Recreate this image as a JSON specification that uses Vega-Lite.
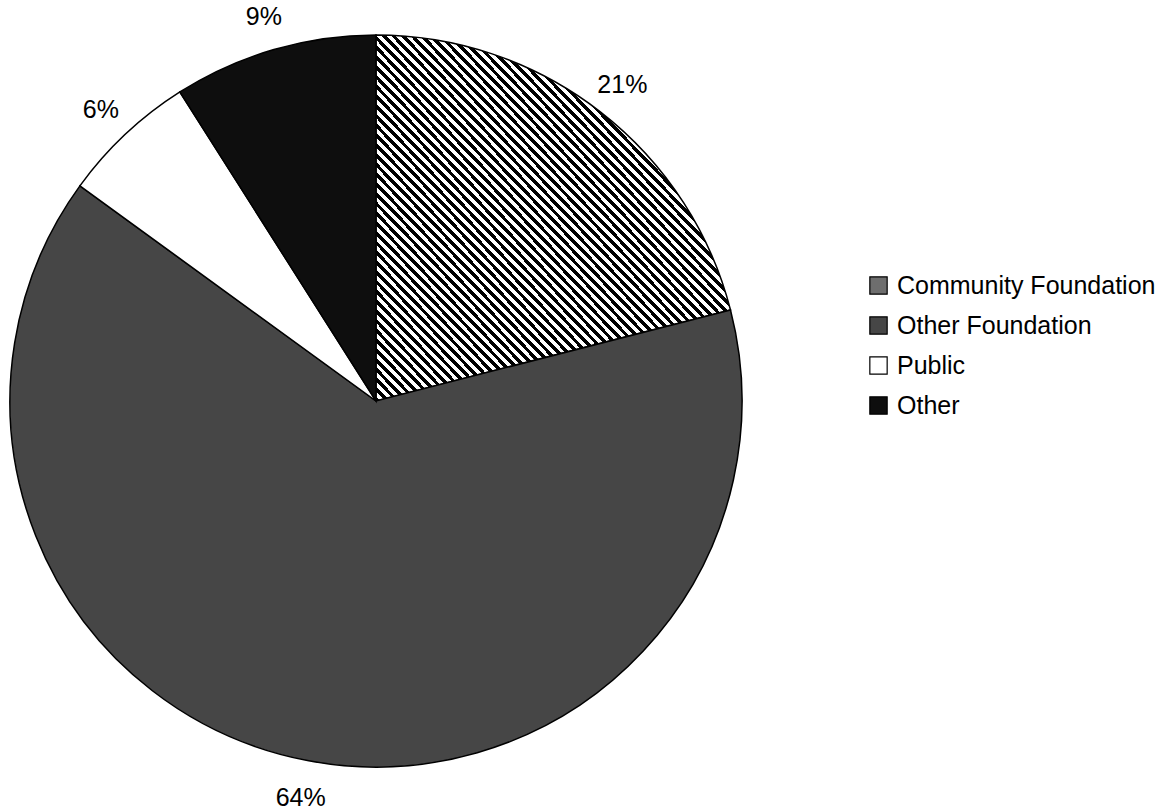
{
  "$schema": "https://vega.github.io/schema/vega-lite/v6.json",
  "width": 752,
  "height": 802,
  "padding": 0,
  "background": "white",
  "config": {"view": {"stroke": null}, "font": "Liberation Sans"},
  "data": {
    "values": [
      {"source": "Community Foundation", "share": 0.21},
      {"source": "Other Foundation", "share": 0.64},
      {"source": "Public", "share": 0.06},
      {"source": "Other", "share": 0.09}
    ]
  },
  "transform": [{"window": [{"op": "row_number", "as": "slice"}]}],
  "encoding": {
    "theta": {"field": "share", "type": "quantitative", "stack": true},
    "order": {"field": "slice", "type": "quantitative"}
  },
  "layer": [
    {
      "mark": {"type": "arc", "outerRadius": 366, "stroke": "black", "strokeWidth": 1.5},
      "encoding": {
        "fill": {
          "field": "source",
          "type": "nominal",
          "sort": ["Community Foundation", "Other Foundation", "Public", "Other"],
          "scale": {
            "domain": ["Community Foundation", "Other Foundation", "Public", "Other"],
            "range": ["#6e6e6e", "#464646", "#ffffff", "#0e0e0e"]
          },
          "condition": {
            "test": "datum.source === 'Community Foundation'",
            "value": {
              "gradient": "linear", "x1": 0, "y1": 1, "x2": 1, "y2": 0,
              "stops": [
{"offset":0,"color":"#000"},{"offset":0.0067,"color":"#000"},{"offset":0.0067,"color":"#fff"},{"offset":0.0133,"color":"#fff"},{"offset":0.0133,"color":"#000"},{"offset":0.02,"color":"#000"},
{"offset":0.02,"color":"#fff"},{"offset":0.0267,"color":"#fff"},{"offset":0.0267,"color":"#000"},{"offset":0.0333,"color":"#000"},{"offset":0.0333,"color":"#fff"},{"offset":0.04,"color":"#fff"},
{"offset":0.04,"color":"#000"},{"offset":0.0467,"color":"#000"},{"offset":0.0467,"color":"#fff"},{"offset":0.0533,"color":"#fff"},{"offset":0.0533,"color":"#000"},{"offset":0.06,"color":"#000"},
{"offset":0.06,"color":"#fff"},{"offset":0.0667,"color":"#fff"},{"offset":0.0667,"color":"#000"},{"offset":0.0733,"color":"#000"},{"offset":0.0733,"color":"#fff"},{"offset":0.08,"color":"#fff"},
{"offset":0.08,"color":"#000"},{"offset":0.0867,"color":"#000"},{"offset":0.0867,"color":"#fff"},{"offset":0.0933,"color":"#fff"},{"offset":0.0933,"color":"#000"},{"offset":0.1,"color":"#000"},
{"offset":0.1,"color":"#fff"},{"offset":0.1067,"color":"#fff"},{"offset":0.1067,"color":"#000"},{"offset":0.1133,"color":"#000"},{"offset":0.1133,"color":"#fff"},{"offset":0.12,"color":"#fff"},
{"offset":0.12,"color":"#000"},{"offset":0.1267,"color":"#000"},{"offset":0.1267,"color":"#fff"},{"offset":0.1333,"color":"#fff"},{"offset":0.1333,"color":"#000"},{"offset":0.14,"color":"#000"},
{"offset":0.14,"color":"#fff"},{"offset":0.1467,"color":"#fff"},{"offset":0.1467,"color":"#000"},{"offset":0.1533,"color":"#000"},{"offset":0.1533,"color":"#fff"},{"offset":0.16,"color":"#fff"},
{"offset":0.16,"color":"#000"},{"offset":0.1667,"color":"#000"},{"offset":0.1667,"color":"#fff"},{"offset":0.1733,"color":"#fff"},{"offset":0.1733,"color":"#000"},{"offset":0.18,"color":"#000"},
{"offset":0.18,"color":"#fff"},{"offset":0.1867,"color":"#fff"},{"offset":0.1867,"color":"#000"},{"offset":0.1933,"color":"#000"},{"offset":0.1933,"color":"#fff"},{"offset":0.2,"color":"#fff"},
{"offset":0.2,"color":"#000"},{"offset":0.2067,"color":"#000"},{"offset":0.2067,"color":"#fff"},{"offset":0.2133,"color":"#fff"},{"offset":0.2133,"color":"#000"},{"offset":0.22,"color":"#000"},
{"offset":0.22,"color":"#fff"},{"offset":0.2267,"color":"#fff"},{"offset":0.2267,"color":"#000"},{"offset":0.2333,"color":"#000"},{"offset":0.2333,"color":"#fff"},{"offset":0.24,"color":"#fff"},
{"offset":0.24,"color":"#000"},{"offset":0.2467,"color":"#000"},{"offset":0.2467,"color":"#fff"},{"offset":0.2533,"color":"#fff"},{"offset":0.2533,"color":"#000"},{"offset":0.26,"color":"#000"},
{"offset":0.26,"color":"#fff"},{"offset":0.2667,"color":"#fff"},{"offset":0.2667,"color":"#000"},{"offset":0.2733,"color":"#000"},{"offset":0.2733,"color":"#fff"},{"offset":0.28,"color":"#fff"},
{"offset":0.28,"color":"#000"},{"offset":0.2867,"color":"#000"},{"offset":0.2867,"color":"#fff"},{"offset":0.2933,"color":"#fff"},{"offset":0.2933,"color":"#000"},{"offset":0.3,"color":"#000"},
{"offset":0.3,"color":"#fff"},{"offset":0.3067,"color":"#fff"},{"offset":0.3067,"color":"#000"},{"offset":0.3133,"color":"#000"},{"offset":0.3133,"color":"#fff"},{"offset":0.32,"color":"#fff"},
{"offset":0.32,"color":"#000"},{"offset":0.3267,"color":"#000"},{"offset":0.3267,"color":"#fff"},{"offset":0.3333,"color":"#fff"},{"offset":0.3333,"color":"#000"},{"offset":0.34,"color":"#000"},
{"offset":0.34,"color":"#fff"},{"offset":0.3467,"color":"#fff"},{"offset":0.3467,"color":"#000"},{"offset":0.3533,"color":"#000"},{"offset":0.3533,"color":"#fff"},{"offset":0.36,"color":"#fff"},
{"offset":0.36,"color":"#000"},{"offset":0.3667,"color":"#000"},{"offset":0.3667,"color":"#fff"},{"offset":0.3733,"color":"#fff"},{"offset":0.3733,"color":"#000"},{"offset":0.38,"color":"#000"},
{"offset":0.38,"color":"#fff"},{"offset":0.3867,"color":"#fff"},{"offset":0.3867,"color":"#000"},{"offset":0.3933,"color":"#000"},{"offset":0.3933,"color":"#fff"},{"offset":0.4,"color":"#fff"},
{"offset":0.4,"color":"#000"},{"offset":0.4067,"color":"#000"},{"offset":0.4067,"color":"#fff"},{"offset":0.4133,"color":"#fff"},{"offset":0.4133,"color":"#000"},{"offset":0.42,"color":"#000"},
{"offset":0.42,"color":"#fff"},{"offset":0.4267,"color":"#fff"},{"offset":0.4267,"color":"#000"},{"offset":0.4333,"color":"#000"},{"offset":0.4333,"color":"#fff"},{"offset":0.44,"color":"#fff"},
{"offset":0.44,"color":"#000"},{"offset":0.4467,"color":"#000"},{"offset":0.4467,"color":"#fff"},{"offset":0.4533,"color":"#fff"},{"offset":0.4533,"color":"#000"},{"offset":0.46,"color":"#000"},
{"offset":0.46,"color":"#fff"},{"offset":0.4667,"color":"#fff"},{"offset":0.4667,"color":"#000"},{"offset":0.4733,"color":"#000"},{"offset":0.4733,"color":"#fff"},{"offset":0.48,"color":"#fff"},
{"offset":0.48,"color":"#000"},{"offset":0.4867,"color":"#000"},{"offset":0.4867,"color":"#fff"},{"offset":0.4933,"color":"#fff"},{"offset":0.4933,"color":"#000"},{"offset":0.5,"color":"#000"},
{"offset":0.5,"color":"#fff"},{"offset":0.5067,"color":"#fff"},{"offset":0.5067,"color":"#000"},{"offset":0.5133,"color":"#000"},{"offset":0.5133,"color":"#fff"},{"offset":0.52,"color":"#fff"},
{"offset":0.52,"color":"#000"},{"offset":0.5267,"color":"#000"},{"offset":0.5267,"color":"#fff"},{"offset":0.5333,"color":"#fff"},{"offset":0.5333,"color":"#000"},{"offset":0.54,"color":"#000"},
{"offset":0.54,"color":"#fff"},{"offset":0.5467,"color":"#fff"},{"offset":0.5467,"color":"#000"},{"offset":0.5533,"color":"#000"},{"offset":0.5533,"color":"#fff"},{"offset":0.56,"color":"#fff"},
{"offset":0.56,"color":"#000"},{"offset":0.5667,"color":"#000"},{"offset":0.5667,"color":"#fff"},{"offset":0.5733,"color":"#fff"},{"offset":0.5733,"color":"#000"},{"offset":0.58,"color":"#000"},
{"offset":0.58,"color":"#fff"},{"offset":0.5867,"color":"#fff"},{"offset":0.5867,"color":"#000"},{"offset":0.5933,"color":"#000"},{"offset":0.5933,"color":"#fff"},{"offset":0.6,"color":"#fff"},
{"offset":0.6,"color":"#000"},{"offset":0.6067,"color":"#000"},{"offset":0.6067,"color":"#fff"},{"offset":0.6133,"color":"#fff"},{"offset":0.6133,"color":"#000"},{"offset":0.62,"color":"#000"},
{"offset":0.62,"color":"#fff"},{"offset":0.6267,"color":"#fff"},{"offset":0.6267,"color":"#000"},{"offset":0.6333,"color":"#000"},{"offset":0.6333,"color":"#fff"},{"offset":0.64,"color":"#fff"},
{"offset":0.64,"color":"#000"},{"offset":0.6467,"color":"#000"},{"offset":0.6467,"color":"#fff"},{"offset":0.6533,"color":"#fff"},{"offset":0.6533,"color":"#000"},{"offset":0.66,"color":"#000"},
{"offset":0.66,"color":"#fff"},{"offset":0.6667,"color":"#fff"},{"offset":0.6667,"color":"#000"},{"offset":0.6733,"color":"#000"},{"offset":0.6733,"color":"#fff"},{"offset":0.68,"color":"#fff"},
{"offset":0.68,"color":"#000"},{"offset":0.6867,"color":"#000"},{"offset":0.6867,"color":"#fff"},{"offset":0.6933,"color":"#fff"},{"offset":0.6933,"color":"#000"},{"offset":0.7,"color":"#000"},
{"offset":0.7,"color":"#fff"},{"offset":0.7067,"color":"#fff"},{"offset":0.7067,"color":"#000"},{"offset":0.7133,"color":"#000"},{"offset":0.7133,"color":"#fff"},{"offset":0.72,"color":"#fff"},
{"offset":0.72,"color":"#000"},{"offset":0.7267,"color":"#000"},{"offset":0.7267,"color":"#fff"},{"offset":0.7333,"color":"#fff"},{"offset":0.7333,"color":"#000"},{"offset":0.74,"color":"#000"},
{"offset":0.74,"color":"#fff"},{"offset":0.7467,"color":"#fff"},{"offset":0.7467,"color":"#000"},{"offset":0.7533,"color":"#000"},{"offset":0.7533,"color":"#fff"},{"offset":0.76,"color":"#fff"},
{"offset":0.76,"color":"#000"},{"offset":0.7667,"color":"#000"},{"offset":0.7667,"color":"#fff"},{"offset":0.7733,"color":"#fff"},{"offset":0.7733,"color":"#000"},{"offset":0.78,"color":"#000"},
{"offset":0.78,"color":"#fff"},{"offset":0.7867,"color":"#fff"},{"offset":0.7867,"color":"#000"},{"offset":0.7933,"color":"#000"},{"offset":0.7933,"color":"#fff"},{"offset":0.8,"color":"#fff"},
{"offset":0.8,"color":"#000"},{"offset":0.8067,"color":"#000"},{"offset":0.8067,"color":"#fff"},{"offset":0.8133,"color":"#fff"},{"offset":0.8133,"color":"#000"},{"offset":0.82,"color":"#000"},
{"offset":0.82,"color":"#fff"},{"offset":0.8267,"color":"#fff"},{"offset":0.8267,"color":"#000"},{"offset":0.8333,"color":"#000"},{"offset":0.8333,"color":"#fff"},{"offset":0.84,"color":"#fff"},
{"offset":0.84,"color":"#000"},{"offset":0.8467,"color":"#000"},{"offset":0.8467,"color":"#fff"},{"offset":0.8533,"color":"#fff"},{"offset":0.8533,"color":"#000"},{"offset":0.86,"color":"#000"},
{"offset":0.86,"color":"#fff"},{"offset":0.8667,"color":"#fff"},{"offset":0.8667,"color":"#000"},{"offset":0.8733,"color":"#000"},{"offset":0.8733,"color":"#fff"},{"offset":0.88,"color":"#fff"},
{"offset":0.88,"color":"#000"},{"offset":0.8867,"color":"#000"},{"offset":0.8867,"color":"#fff"},{"offset":0.8933,"color":"#fff"},{"offset":0.8933,"color":"#000"},{"offset":0.9,"color":"#000"},
{"offset":0.9,"color":"#fff"},{"offset":0.9067,"color":"#fff"},{"offset":0.9067,"color":"#000"},{"offset":0.9133,"color":"#000"},{"offset":0.9133,"color":"#fff"},{"offset":0.92,"color":"#fff"},
{"offset":0.92,"color":"#000"},{"offset":0.9267,"color":"#000"},{"offset":0.9267,"color":"#fff"},{"offset":0.9333,"color":"#fff"},{"offset":0.9333,"color":"#000"},{"offset":0.94,"color":"#000"},
{"offset":0.94,"color":"#fff"},{"offset":0.9467,"color":"#fff"},{"offset":0.9467,"color":"#000"},{"offset":0.9533,"color":"#000"},{"offset":0.9533,"color":"#fff"},{"offset":0.96,"color":"#fff"},
{"offset":0.96,"color":"#000"},{"offset":0.9667,"color":"#000"},{"offset":0.9667,"color":"#fff"},{"offset":0.9733,"color":"#fff"},{"offset":0.9733,"color":"#000"},{"offset":0.98,"color":"#000"},
{"offset":0.98,"color":"#fff"},{"offset":0.9867,"color":"#fff"},{"offset":0.9867,"color":"#000"},{"offset":0.9933,"color":"#000"},{"offset":0.9933,"color":"#fff"},{"offset":1,"color":"#fff"}
              ]
            }
          },
          "legend": {
            "title": null,
            "orient": "none",
            "legendX": 866,
            "legendY": 273,
            "symbolType": "square",
            "symbolSize": 300,
            "symbolStrokeColor": "black",
            "symbolStrokeWidth": 1.2,
            "labelFont": "Liberation Sans",
            "labelFontSize": 25,
            "labelColor": "black",
            "labelLimit": 400,
            "labelOffset": 6,
            "rowPadding": 14,
            "encode": {
              "symbols": {
                "update": {
                  "stroke": {"value": "black"},
                  "strokeWidth": {"value": 1.2}
                }
              }
            }
          }
        }
      }
    },
    {
      "mark": {"type": "text", "radius": 402, "dy": 2, "fontSize": 25, "font": "Liberation Sans", "color": "black"},
      "encoding": {
        "text": {"field": "share", "type": "quantitative", "format": ".0%"}
      }
    }
  ]
}
